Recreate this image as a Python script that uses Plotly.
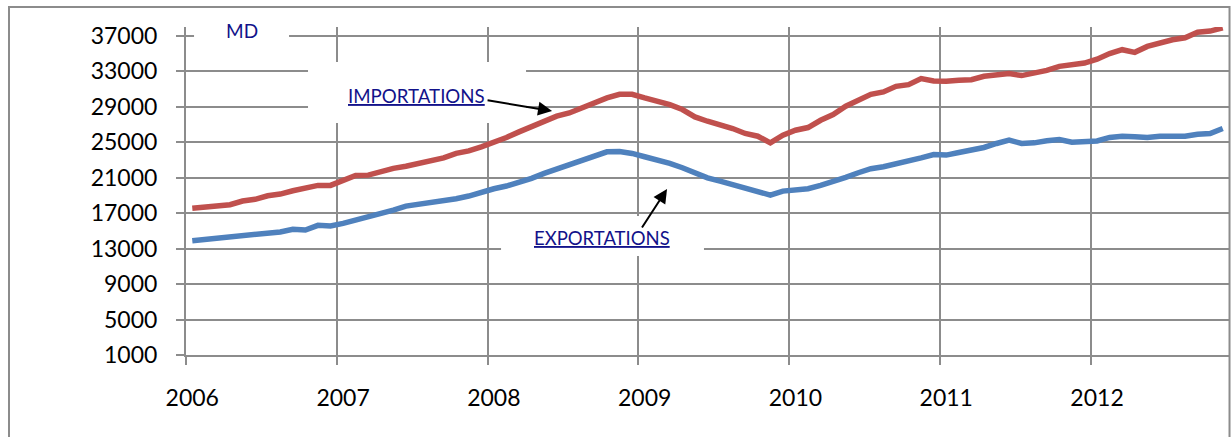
import plotly.graph_objects as go

# ---- data (monthly, Jan 2006 .. Nov 2012) ----
years = ["2006", "2007", "2008", "2009", "2010", "2011", "2012"]
importations = [17550, 17660, 17800, 17950, 18370, 18560, 18960, 19150, 19530, 19800, 20130, 20130,
                20730, 21260, 21290, 21740, 22050, 22300, 22600, 22790, 23240, 23740, 24030, 24480,
                24930, 25540, 26170, 26730, 27400, 27940, 28300, 28910, 29430, 30000, 30410, 30410,
                30000, 29700, 29250, 28690, 27860, 27370, 27000, 26550, 25990, 25680, 24930, 25800,
                26360, 26660, 27480, 28120, 29060, 29660, 30400, 30670, 31310, 31500, 32180, 31910,
                31870, 31990, 32060, 32440, 32550, 32740, 32520, 32740, 33110, 33560, 33670, 33930,
                34370, 35000, 35440, 35140, 35810, 36260, 36560, 36790, 37420, 37540, 37900]
exportations = [13900, 14050, 14200, 14320, 14390, 14540, 14730, 14880, 15180, 15100, 15630, 15550,
                15850, 16230, 16530, 16870, 17350, 17800, 18000, 18100, 18370, 18630, 18930, 19380,
                19750, 20060, 20430, 20920, 21480, 21940, 22420, 22980, 23360, 23920, 23960, 23740,
                23360, 23060, 22610, 22120, 21560, 20990, 20620, 20200, 19750, 19300, 19040, 19490,
                19610, 19750, 20130, 20540, 21030, 21560, 22020, 22230, 22530, 22870, 23240, 23620,
                23550, 23850, 24110, 24410, 24860, 25230, 24860, 24930, 25160, 25310, 25010, 25080,
                25140, 25540, 25680, 25610, 25540, 25680, 25680, 25680, 25910, 25980, 26550]
y_ticks = [1000, 5000, 9000, 13000, 17000, 21000, 25000, 29000, 33000, 37000]
y_labels = [str(v) for v in y_ticks]

months = list(range(len(importations)))
year_pos = [12 * k for k in range(len(years))]

RED = "#C0504D"
BLUE = "#4F81BD"
GRID = "#8c8c8c"
NAVY = "#12128A"
FONT = "Lato"

fig = go.Figure()
fig.add_trace(go.Scatter(x=months, y=importations, mode="lines",
                         line=dict(color=RED, width=5.5), name="IMPORTATIONS", showlegend=False))
fig.add_trace(go.Scatter(x=months, y=exportations, mode="lines",
                         line=dict(color=BLUE, width=5.5), name="EXPORTATIONS", showlegend=False))

fig.update_layout(
    width=1232, height=437,
    margin=dict(l=186, r=3, t=27, b=82, autoexpand=False),
    paper_bgcolor="white", plot_bgcolor="white",
    font=dict(family=FONT, size=23, color="black"),
    showlegend=False,
)
fig.update_xaxes(
    range=[-0.5, len(months) - 0.5], automargin=False,
    tickmode="array", tickvals=year_pos, ticktext=years,
    ticks="", showgrid=False, zeroline=False,
    showline=True, linecolor=GRID, linewidth=2,
    ticklabelstandoff=21,
    minor=dict(tick0=-0.5, dtick=12, showgrid=True, gridcolor=GRID, gridwidth=2,
               ticks="outside", ticklen=8, tickcolor=GRID, tickwidth=2),
)
fig.update_yaxes(
    range=[1000, 38000], automargin=False,
    tickmode="array", tickvals=y_ticks, ticktext=y_labels,
    showgrid=True, gridcolor=GRID, gridwidth=2, zeroline=False,
    showline=True, linecolor=GRID, linewidth=2,
    ticks="outside", ticklen=8, tickcolor=GRID, tickwidth=2,
    ticklabelstandoff=14,
)

# white text-box backgrounds that hide the grid
for (x0, x1, y0, y1) in [(0.14, 7.70, 35970, 39500),
                         (9.21, 26.56, 27170, 34050),
                         (24.57, 40.72, 12170, 16680)]:
    fig.add_shape(type="rect", xref="x", yref="y", x0=x0, x1=x1, y0=y0, y1=y1,
                  fillcolor="white", line=dict(width=0), layer="between")

# outer chart border
fig.add_shape(type="rect", xref="paper", yref="paper", x0=-0.1697, x1=1.0005, y0=-0.26, y1=1.061,
              line=dict(color=GRID, width=2), fillcolor="rgba(0,0,0,0)", layer="above")

fig.add_annotation(x=3.96, y=37660, xref="x", yref="y", text="MD", showarrow=False,
                   font=dict(family=FONT, size=19, color=NAVY), xanchor="center", yanchor="middle")
fig.add_annotation(x=17.88, y=30215, xref="x", yref="y", text="<u>IMPORTATIONS</u>", showarrow=False,
                   font=dict(family=FONT, size=18.7, color=NAVY), xanchor="center", yanchor="middle")
fig.add_annotation(x=32.6, y=14198, xref="x", yref="y", text="<u>EXPORTATIONS</u>", showarrow=False,
                   font=dict(family=FONT, size=18.5, color=NAVY), xanchor="center", yanchor="middle")

# arrows
fig.add_annotation(x=28.63, y=28523, xref="x", yref="y", ax=-66, ay=-11, text="",
                   showarrow=True, arrowhead=2, arrowsize=1.4, arrowwidth=2, arrowcolor="black")
fig.add_annotation(x=37.78, y=19725, xref="x", yref="y", ax=-26, ay=40, text="",
                   showarrow=True, arrowhead=2, arrowsize=1.4, arrowwidth=2, arrowcolor="black")

fig.write_html("out.html", config={"displayModeBar": False},
               post_script="document.body.style.margin='0';document.body.style.overflow='hidden';")
